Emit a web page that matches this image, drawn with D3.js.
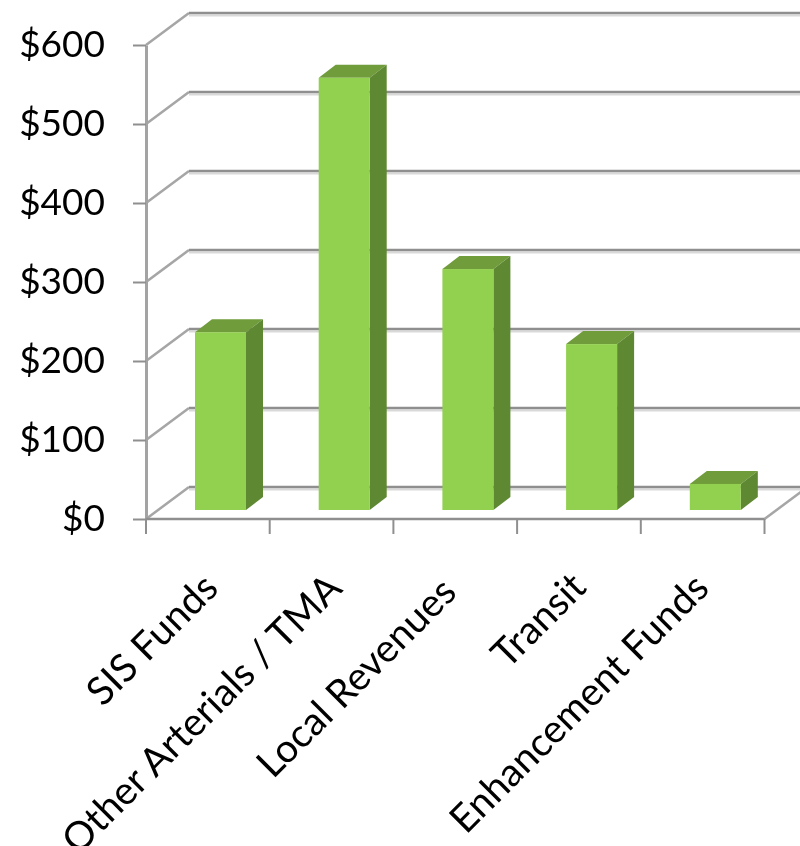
<!DOCTYPE html>
<html>
<head>
<meta charset="utf-8">
<script src="https://cdnjs.cloudflare.com/ajax/libs/d3/7.8.5/d3.min.js"></script>
<style>
  html, body { margin: 0; padding: 0; background: #fff; }
  svg { display: block; }
  text { font-family: Lato, "Open Sans", sans-serif; fill: #000; }
</style>
</head>
<body>
<svg id="chart" width="800" height="846">
  <defs>
    <!-- the reference is a soft, upscaled picture -->
    <filter id="soft" filterUnits="userSpaceOnUse" x="0" y="0" width="800" height="846">
      <feGaussianBlur stdDeviation="0.5"></feGaussianBlur>
    </filter>
  </defs>
</svg>
<script>
var categories = ["SIS Funds", "Other Arterials / TMA", "Local Revenues", "Transit", "Enhancement Funds"];
var funding = [225, 547, 305, 210, 33];
var tickValues = [0, 100, 200, 300, 400, 500, 600];

var svg = d3.select("#chart").append("g").attr("filter", "url(#soft)");

var x = d3.scaleBand().domain(categories).range([146, 764.5]);
var y = d3.scaleLinear().domain([0, 600]).range([519, 45]);

// depth of the wall behind the plot, and of each bar
var wall = {dx: 43, dy: -32};
var depth = {dx: 17, dy: -13};
var barWidth = 51, barInset = 49, barLift = 9;

var gridColor = "#8f8f8f", slantColor = "#a6a6a6";

function poly(points, fill) {
    return svg.append("polygon")
        .attr("points", points.map(function (p) { return p.join(","); }).join(" "))
        .attr("fill", fill);
}

// gridlines: slanted side wall then the back wall
tickValues.forEach(function (v) {
    var backY = y(v) + wall.dy, backX = 146 + wall.dx;
    svg.append("path")
        .attr("fill", "none")
        .attr("stroke", "#d9d9d9")
        .attr("stroke-width", 2)
        .attr("d", "M" + backX + "," + (backY + 2.5) + "H800");
    svg.append("line")
        .attr("x1", 146).attr("y1", y(v))
        .attr("x2", backX).attr("y2", backY)
        .attr("stroke", slantColor).attr("stroke-width", 2.6);
    svg.append("line")
        .attr("x1", backX).attr("y1", backY)
        .attr("x2", 800).attr("y2", backY)
        .attr("stroke", gridColor).attr("stroke-width", 2.4);
});

// right edge of the floor
svg.append("line")
    .attr("x1", x.range()[1]).attr("y1", y(0))
    .attr("x2", x.range()[1] + wall.dx).attr("y2", y(0) + wall.dy)
    .attr("stroke", slantColor).attr("stroke-width", 2.6);

// y axis
var yAxis = d3.axisLeft(y)
    .tickValues(tickValues)
    .tickFormat(function (d) { return "$" + d; })
    .tickSize(13)
    .tickSizeOuter(0);
var gy = svg.append("g").attr("transform", "translate(146,0)").call(yAxis);
gy.select("path").attr("stroke", "#a3a3a3").attr("stroke-width", 3);
gy.selectAll("line").attr("stroke", gridColor).attr("stroke-width", 2);
gy.selectAll("text")
    .attr("x", -41)
    .attr("font-size", 37)
    .style("font-family", 'Lato, "Open Sans", sans-serif')
    .style("fill", "#000");

// x axis, ticks sit on the band edges
var gx = svg.append("g").attr("transform", "translate(0," + y(0) + ")");
gx.append("line")
    .attr("x1", x.range()[0]).attr("x2", x.range()[1])
    .attr("stroke", gridColor).attr("stroke-width", 2.6);
categories.map(function (c) { return x(c); }).concat([x.range()[1]]).forEach(function (tx) {
    gx.append("line")
        .attr("x1", tx).attr("x2", tx)
        .attr("y1", 0).attr("y2", 15)
        .attr("stroke", gridColor).attr("stroke-width", 2);
});

// bars
categories.forEach(function (c, i) {
    var x0 = x(c) + barInset, x1 = x0 + barWidth;
    var bottom = y(0) - barLift, top = y(funding[i]) - barLift;
    poly([[x0, top], [x0 + depth.dx, top + depth.dy], [x1 + depth.dx, top + depth.dy], [x1, top]], "#6f9c3b");
    poly([[x1, top], [x1 + depth.dx, top + depth.dy], [x1 + depth.dx, bottom + depth.dy], [x1, bottom]], "#5e8832");
    svg.append("rect")
        .attr("x", x0).attr("y", top)
        .attr("width", barWidth).attr("height", bottom - top)
        .attr("fill", "#92d050");
});

// category labels, Lato runs a bit different from the original font so some need a nudge
var nudge = {"Local Revenues": [-9, 4], "Transit": [-3, -1], "Enhancement Funds": [-4, 0]};
categories.forEach(function (c) {
    var n = nudge[c] || [0, 0];
    var lx = x(c) + x.bandwidth() / 2 - 7 + n[0], ly = 571 + n[1];
    svg.append("text")
        .attr("transform", "translate(" + lx + "," + ly + ") rotate(-45)")
        .attr("text-anchor", "end")
        .attr("font-size", 39)
        .attr("dy", "0.7em")
        .text(c);
});
</script>
</body>
</html>
